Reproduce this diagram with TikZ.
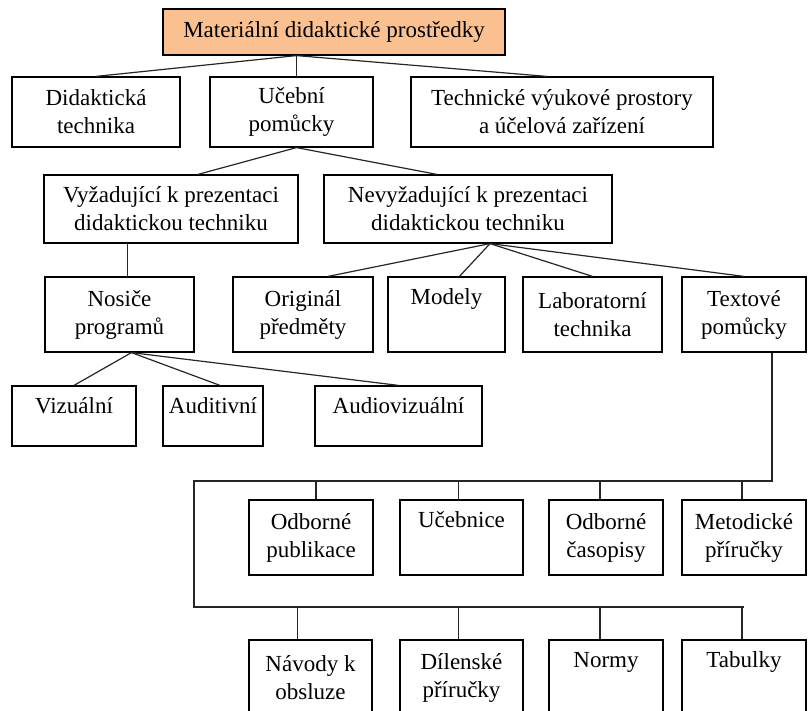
\documentclass[tikz,border=0pt]{standalone}
\usepackage{fontspec}
\setmainfont{Liberation Serif}
\usepackage{tikz}
\usetikzlibrary{calc}

\definecolor{headorange}{RGB}{250,192,144}

\begin{document}
\begin{tikzpicture}[
        x=1pt, y=-1pt,
        font=\fontsize{23}{28}\selectfont,
        box/.style={draw, line width=1.2pt, align=center, inner sep=0pt, minimum width=#1},
        headbox/.style={box=#1, fill=headorange},
        link/.style={line width=1.2pt, color=black!85}
      ]
        \useasboundingbox (0,0) rectangle (810,711);
        \clip (0,0) rectangle (810,711);

        \node[headbox=342pt, minimum height=46pt] (top) at (334,32) {Materiální didaktické prostředky};

        \node[box=168pt, minimum height=70pt] (didtech) at (96,112) {Didaktická\\technika};
        \node[box=163pt, minimum height=70pt] (pomucky) at (291.5,112) {Učební\\pomůcky};
        \node[box=302pt, minimum height=70pt] (prostory) at (562,112) {Technické výukové prostory\\a účelová zařízení};

        \node[box=254pt, minimum height=68pt] (vyzad) at (171,209) {Vyžadující k prezentaci\\didaktickou techniku};
        \node[box=288pt, minimum height=68pt] (nevyzad) at (468,209) {Nevyžadující k prezentaci\\didaktickou techniku};

        \node[box=149pt, minimum height=75pt] (nosice) at (119.5,314.5) {Nosiče\\programů};
        \node[box=140pt, minimum height=75pt] (original) at (303,314.5) {Originál\\předměty};
        \node[box=117pt, minimum height=75pt] (modely) at (446.5,314.5) {Modely\\\strut};
        \node[box=139pt, minimum height=75pt] (labtech) at (592.5,314.5) {Laboratorní\\technika};
        \node[box=124pt, minimum height=75pt] (textove) at (744,314.5) {Textové\\pomůcky};

        \node[box=124pt, minimum height=60pt] (vizual) at (74,416) {Vizuální\\[-16pt]\strut};
        \node[box=100pt, minimum height=60pt] (audit) at (213,416) {Auditivní\\[-16pt]\strut};
        \node[box=167pt, minimum height=60pt] (audioviz) at (398.5,416) {Audiovizuální\\[-16pt]\strut};

        \node[box=124pt, minimum height=75pt] (odbpub) at (311,537.5) {Odborné\\publikace};
        \node[box=123pt, minimum height=75pt] (ucebnice) at (461.5,537.5) {Učebnice\\\strut};
        \node[box=114pt, minimum height=75pt] (odbcas) at (606,537.5) {Odborné\\časopisy};
        \node[box=124pt, minimum height=75pt] (metod) at (744,537.5) {Metodické\\příručky};

        \node[box=123pt, minimum height=76pt] (navody) at (310.5,678) {Návody k\\obsluze};
        \node[box=123pt, minimum height=76pt] (dilen) at (461.5,678) {Dílenské\\příručky};
        \node[box=114pt, minimum height=76pt] (normy) at (606,678) {Normy\\\strut};
        \node[box=124pt, minimum height=76pt] (tabulky) at (744,678) {Tabulky\\\strut};

        \coordinate (busa) at (194,481);
        \coordinate (busb) at (194,607);

        \draw[link] ([xshift=5pt]top.south -| pomucky.north) -- (didtech.north);
        \draw[link] ([xshift=5pt]top.south -| pomucky.north) -- ([xshift=5pt]pomucky.north);
        \draw[link] ([xshift=5pt]top.south -| pomucky.north) -- ([xshift=-15pt]prostory.north);

        \draw[link] ([xshift=5pt]pomucky.south) -- ([xshift=27pt]vyzad.north);
        \draw[link] ([xshift=5pt]pomucky.south) -- ([xshift=-31pt]nevyzad.north);

        \draw[link] ([xshift=8pt]nosice.north) -- ([xshift=8pt]nosice.north |- vyzad.south);

        \draw[link] ([xshift=22pt]nevyzad.south) -- ([xshift=25pt]original.north);
        \draw[link] ([xshift=22pt]nevyzad.south) -- ([xshift=13pt]modely.north);
        \draw[link] ([xshift=22pt]nevyzad.south) -- (labtech.north);
        \draw[link] ([xshift=22pt]nevyzad.south) -- (textove.north);

        \draw[link] ([xshift=12pt]nosice.south) -- (vizual.north);
        \draw[link] ([xshift=12pt]nosice.south) -- ([xshift=7pt]audit.north);
        \draw[link] ([xshift=12pt]nosice.south) -- (audioviz.north);

        \draw[link] ([xshift=28pt]textove.south) |- (busa) -- (busb) -- (busb -| metod.north);

        \draw[link] ([xshift=5pt]odbpub.north) -- ([xshift=5pt]odbpub.north |- busa);
        \draw[link] ([xshift=-3pt]ucebnice.north) -- ([xshift=-3pt]ucebnice.north |- busa);
        \draw[link] ([xshift=-6pt]odbcas.north) -- ([xshift=-6pt]odbcas.north |- busa);
        \draw[link] ([xshift=-2pt]metod.north) -- ([xshift=-2pt]metod.north |- busa);

        \draw[link] ([xshift=-13pt]navody.north) -- ([xshift=-13pt]navody.north |- busb);
        \draw[link] ([xshift=-3pt]dilen.north) -- ([xshift=-3pt]dilen.north |- busb);
        \draw[link] ([xshift=-6pt]normy.north) -- ([xshift=-6pt]normy.north |- busb);
        \draw[link] ([xshift=-2pt]tabulky.north) -- ([xshift=-2pt]tabulky.north |- busb);
      \end{tikzpicture}
\end{document}
